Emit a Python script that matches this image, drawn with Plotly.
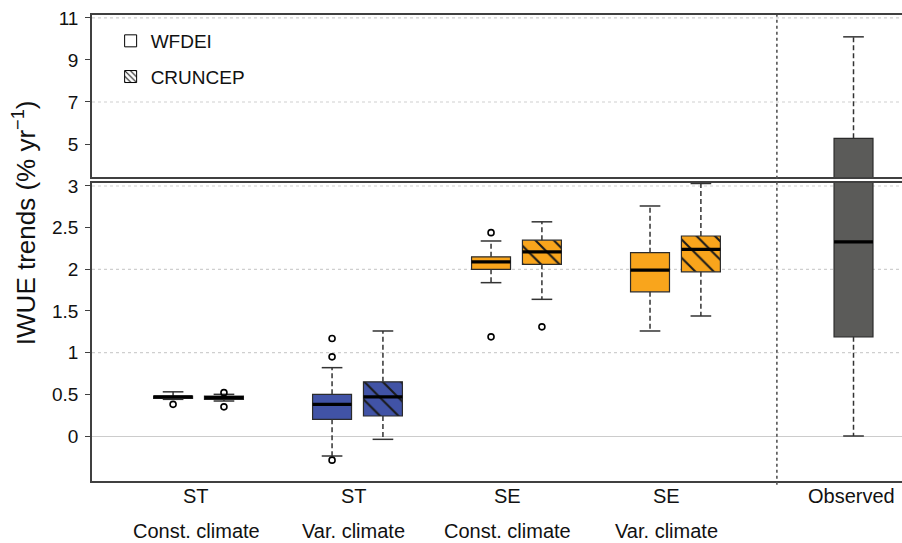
import plotly.graph_objects as go

# ---------------- data ----------------
categories = ["ST", "ST", "SE", "SE"]
climates = ["Const. climate", "Var. climate", "Const. climate", "Var. climate"]
group_pos = [1, 2, 3, 4]
label_pos = [0.985, 1.975, 2.945, 3.945]
obs_label = "Observed"
obs_pos = 5.12

wfdei_lower = [0.44, -0.24, 1.84, 1.26]
wfdei_q1 = [0.45, 0.20, 2.00, 1.73]
wfdei_median = [0.47, 0.38, 2.09, 1.99]
wfdei_q3 = [0.48, 0.50, 2.15, 2.20]
wfdei_upper = [0.53, 0.82, 2.34, 2.76]
wfdei_outliers = [[0.38], [1.17, 0.95, -0.29], [2.44, 1.19], []]

cruncep_lower = [0.42, -0.04, 1.64, 1.44]
cruncep_q1 = [0.44, 0.24, 2.06, 1.97]
cruncep_median = [0.46, 0.47, 2.21, 2.24]
cruncep_q3 = [0.48, 0.65, 2.35, 2.40]
cruncep_upper = [0.50, 1.26, 2.57, 3.03]
cruncep_outliers = [[0.52, 0.35], [], [1.31], []]

obs_lower = 0.0
obs_q1 = 1.19
obs_median = 2.33
obs_q3 = 5.27
obs_upper = 10.1

group_colors = ["#5a5a5a", "#4153a6", "#f9a51c", "#f9a51c"]
obs_color = "#5b5b59"

bottom_ticks = [0, 0.5, 1, 1.5, 2, 2.5, 3]
bottom_ticktext = ["0", "0.5", "1", "1.5", "2", "2.5", "3"]
top_ticks = [5, 7, 9, 11]
top_ticktext = ["5", "7", "9", "11"]
bottom_grid = [1, 2, 3]
top_grid = [7, 11]

# ---------------- style ----------------
FONT = "Liberation Sans, Arial, sans-serif"
BOX_W = 0.245
OFFSET = 0.16
CAP_W = 0.13
EDGE = "#2b2b2b"
AXC = "#404040"
HATCH_FG = "#1a1a1a"

fig = go.Figure()


def add_boxes(xs, lo, q1, med, q3, hi, outs, colors, hatch, axes):
    xa, ya = axes
    wx, wy, cx, cy, mx, my, ox, oy = [], [], [], [], [], [], [], []
    for x, l, a, m, b, h, o in zip(xs, lo, q1, med, q3, hi, outs):
        wx += [x, x, None, x, x, None]
        wy += [b, h, None, a, l, None]
        cx += [x - CAP_W / 2, x + CAP_W / 2, None, x - CAP_W / 2, x + CAP_W / 2, None]
        cy += [h, h, None, l, l, None]
        mx += [x - BOX_W / 2, x + BOX_W / 2, None]
        my += [m, m, None]
        ox += [x] * len(o)
        oy += list(o)
    fig.add_trace(go.Scatter(x=wx, y=wy, mode="lines", xaxis=xa, yaxis=ya,
                             line=dict(color="#333333", width=1.5, dash="5px,3px"),
                             showlegend=False, hoverinfo="skip"))
    for x, a, b, col in zip(xs, q1, q3, colors):
        marker = dict(color=col, line=dict(color=EDGE, width=1.2))
        if hatch:
            marker["pattern"] = dict(shape="\\", size=13, solidity=0.16,
                                     fgcolor=HATCH_FG, fillmode="overlay", fgopacity=1)
        fig.add_trace(go.Bar(x=[x], y=[b - a], base=[a], width=BOX_W, marker=marker,
                             xaxis=xa, yaxis=ya, showlegend=False, hoverinfo="skip"))
    fig.add_trace(go.Scatter(x=mx, y=my, mode="lines", xaxis=xa, yaxis=ya,
                             line=dict(color="black", width=3.2),
                             showlegend=False, hoverinfo="skip"))
    fig.add_trace(go.Scatter(x=cx, y=cy, mode="lines", xaxis=xa, yaxis=ya,
                             line=dict(color="#333333", width=1.5),
                             showlegend=False, hoverinfo="skip"))
    if ox:
        fig.add_trace(go.Scatter(x=ox, y=oy, mode="markers", xaxis=xa, yaxis=ya,
                                 marker=dict(symbol="circle-open", size=6, color="black",
                                             line=dict(width=1.6, color="black")),
                                 showlegend=False, hoverinfo="skip"))


wx_pos = [g - OFFSET for g in group_pos]
cx_pos = [g + OFFSET for g in group_pos]

for axes in [("x", "y"), ("x2", "y2")]:
    add_boxes(wx_pos, wfdei_lower, wfdei_q1, wfdei_median, wfdei_q3, wfdei_upper,
              wfdei_outliers, group_colors, False, axes)
    add_boxes(cx_pos, cruncep_lower, cruncep_q1, cruncep_median, cruncep_q3, cruncep_upper,
              cruncep_outliers, group_colors, True, axes)
    add_boxes([obs_pos], [obs_lower], [obs_q1], [obs_median], [obs_q3], [obs_upper],
              [[]], [obs_color], False, axes)

# legend entries
fig.add_trace(go.Bar(x=[-10], y=[0], name="WFDEI", xaxis="x2", yaxis="y2",
                     marker=dict(color="white", line=dict(color="black", width=1)),
                     legendgroup="a", hoverinfo="skip"))
fig.add_trace(go.Bar(x=[-10], y=[0], name="CRUNCEP", xaxis="x2", yaxis="y2",
                     marker=dict(color="white", line=dict(color="black", width=1),
                                 pattern=dict(shape="\\", size=5, solidity=0.25,
                                              fgcolor="black", fillmode="overlay",
                                              fgopacity=1)),
                     legendgroup="b", hoverinfo="skip"))

shapes = []
for v in bottom_grid:
    shapes.append(dict(type="line", xref="x domain", x0=0, x1=1, yref="y", y0=v, y1=v,
                       line=dict(color="#cfcfcf", width=1.2, dash="dot"), layer="below"))
for v in top_grid:
    shapes.append(dict(type="line", xref="x2 domain", x0=0, x1=1, yref="y2", y0=v, y1=v,
                       line=dict(color="#cfcfcf", width=1.2, dash="dot"), layer="below"))
shapes.append(dict(type="line", xref="x", x0=4.638, x1=4.638, yref="paper", y0=-0.008, y1=1,
                   line=dict(color="#555555", width=1.6, dash="dot")))

LBL = dict(size=20, color="#111111", family=FONT)
annotations = []
for p, c in zip(label_pos, categories):
    annotations.append(dict(x=p, y=-0.032, xref="x", yref="paper", text=c, showarrow=False,
                            xanchor="center", yanchor="middle", font=LBL))
for p, c in zip(label_pos, climates):
    annotations.append(dict(x=p, y=-0.107, xref="x", yref="paper", text=c, showarrow=False,
                            xanchor="center", yanchor="middle", font=LBL))
annotations.append(dict(x=obs_pos - 0.01, y=-0.032, xref="x", yref="paper", text=obs_label,
                        showarrow=False, xanchor="center", yanchor="middle", font=LBL))
annotations.append(dict(x=-0.083, y=0.555, xref="paper", yref="paper",
                        text="IWUE trends (% yr<sup>−1</sup>)", textangle=-90,
                        showarrow=False, xanchor="center", yanchor="middle",
                        font=dict(size=26, color="#111111", family=FONT)))

x_common = dict(range=[0.33, 5.425], showline=True, mirror=True, linecolor=AXC, linewidth=1.5,
                showticklabels=False, ticks="", showgrid=False, zeroline=False)
y_common = dict(showline=True, linecolor=AXC, linewidth=1.5, ticks="outside", ticklen=5,
                tickwidth=1, tickcolor=AXC, showgrid=False, ticklabelstandoff=3,
                tickfont=dict(size=19, color="#111111", family=FONT))

fig.update_layout(
    width=902, height=543,
    margin=dict(l=92, r=0, t=15, b=62),
    plot_bgcolor="white", paper_bgcolor="white",
    barmode="overlay",
    font=dict(family=FONT, size=19, color="#111111"),
    xaxis=dict(x_common, domain=[0, 1], anchor="y"),
    xaxis2=dict(x_common, domain=[0, 1], anchor="y2", matches="x"),
    yaxis=dict(y_common, domain=[0, 0.6395], range=[-0.54, 3.036],
               tickvals=bottom_ticks, ticktext=bottom_ticktext,
               zeroline=True, zerolinecolor="#cccccc", zerolinewidth=1.2),
    yaxis2=dict(y_common, domain=[0.6524, 1], range=[3.43, 11.14],
                tickvals=top_ticks, ticktext=top_ticktext, zeroline=False),
    legend=dict(x=0.023, y=0.985, xanchor="left", yanchor="top", bgcolor="rgba(0,0,0,0)",
                font=dict(size=19, family=FONT, color="#111111"), tracegroupgap=8,
                traceorder="grouped"),
    shapes=shapes,
    annotations=annotations,
    showlegend=True,
)

fig.write_html("out.html", config={"displayModeBar": False},
               post_script="document.body.style.margin='0';document.body.style.overflow='hidden';")
